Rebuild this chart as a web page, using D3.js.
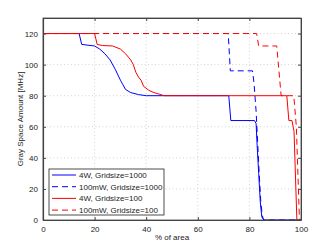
<!DOCTYPE html>
<html lang="en">
<head>
<meta charset="UTF-8">
<title>Gray space amount</title>
<script src="https://d3js.org/d3.v7.min.js"></script>
<style>
  body { margin: 0; background: #fff; }
  text { font-family: "Liberation Sans", Arial, sans-serif; }
</style>
</head>
<body>
<svg id="chart"></svg>
<script>
const xTicks = [0, 20, 40, 60, 80, 100];
const yTicks = [0, 20, 40, 60, 80, 100, 120];

const blue4W = [[0,120],[14,120],[15,113],[20,112],[22,110],[24,107],[26,103],[28,97],[30,90],[31,87],[32,84],[34,82],[37,80.7],[40,80],[72,80],[72.8,64],[82,64],[82.6,62],[83,48],[83.6,30],[84.2,12],[84.8,2],[85.6,0],[100,0]];
const blue100mW = [[0,120],[71.8,120],[72.6,96],[81.2,96],[81.8,88],[82.6,70],[83.2,50],[83.8,30],[84.4,12],[85,3],[85.5,0],[100,0]];
const red4W = [[0,120],[20,120],[21,113],[23,112.3],[27,112],[30,110],[32,107],[34,103],[35,100],[36,95],[37,92],[38,90],[39,86],[41,83.5],[43,82],[45,81],[47,80],[94.5,80],[95.3,64],[96.5,64],[97.3,57],[98.4,0],[100,0]];
const red100mW = [[0,120],[82.8,120],[83.6,112],[90.6,112],[92.3,80],[97.2,80],[98.2,60],[99.4,0]];

const series = [
  {name: "4W, Gridsize=1000", data: blue4W, color: "#0000ff", dash: null},
  {name: "100mW, Gridsize=1000", data: blue100mW, color: "#0000ff", dash: "6,4"},
  {name: "4W, Gridsize=100", data: red4W, color: "#ff0000", dash: null},
  {name: "100mW, Gridsize=100", data: red100mW, color: "#ff0000", dash: "6,4"}
];

const width = 331, height = 249;
const margin = {left: 43, right: 30, top: 18, bottom: 29};
const svg = d3.select("#chart").attr("width", width).attr("height", height);

const x = d3.scaleLinear().domain([0, 100]).range([margin.left, width - margin.right]);
const y = d3.scaleLinear().domain([0, 130]).range([height - margin.bottom, margin.top]);

// grid
const grid = svg.append("g").attr("stroke", "#c8c8c8").attr("stroke-width", 0.8).attr("stroke-dasharray", "1,2.5");
grid.selectAll(".gx").data(xTicks.slice(1, -1)).join("line")
  .attr("x1", d => x(d)).attr("x2", d => x(d)).attr("y1", y(0)).attr("y2", y(130));
grid.selectAll(".gy").data(yTicks.slice(1)).join("line")
  .attr("y1", d => y(d)).attr("y2", d => y(d)).attr("x1", x(0)).attr("x2", x(100));

// lines
const line = d3.line().x(d => x(d[0])).y(d => y(d[1]));
svg.append("g").selectAll("path").data(series).join("path")
  .attr("d", d => line(d.data))
  .attr("fill", "none")
  .attr("stroke", d => d.color)
  .attr("stroke-width", 1)
  .attr("stroke-dasharray", d => d.dash);

// frame and axes
svg.append("rect").attr("x", x(0)).attr("y", y(130)).attr("width", x(100) - x(0)).attr("height", y(0) - y(130))
  .attr("fill", "none").attr("stroke", "#444").attr("stroke-width", 0.8);

const xAxis = svg.append("g").attr("transform", `translate(0,${y(0)})`)
  .call(d3.axisBottom(x).tickValues(xTicks).tickSizeInner(-3).tickSizeOuter(0).tickPadding(6));
const yAxis = svg.append("g").attr("transform", `translate(${x(0)},0)`)
  .call(d3.axisLeft(y).tickValues(yTicks).tickSizeInner(-3).tickSizeOuter(0).tickPadding(5));
[xAxis, yAxis].forEach(a => {
  a.select(".domain").attr("stroke", "#444").attr("stroke-width", 1.2);
  a.selectAll(".tick line").attr("stroke", "#444");
  a.selectAll(".tick text").attr("font-size", 8).attr("fill", "#222")
    .style("font-family", "'Liberation Sans', Arial, sans-serif");
});
svg.append("g").attr("transform", `translate(${x(100)},0)`)
  .call(d3.axisRight(y).tickValues(yTicks).tickSizeInner(-3).tickSizeOuter(0).tickFormat(""))
  .call(g => g.select(".domain").attr("stroke", "#444"))
  .call(g => g.selectAll(".tick line").attr("stroke", "#444"));
svg.append("g").attr("transform", `translate(0,${y(130)})`)
  .call(d3.axisTop(x).tickValues(xTicks).tickSizeInner(-3).tickSizeOuter(0).tickFormat(""))
  .call(g => g.select(".domain").attr("stroke", "#444"))
  .call(g => g.selectAll(".tick line").attr("stroke", "#444"));

// axis labels
svg.append("text").attr("x", (x(0) + x(100)) / 2).attr("y", 240)
  .attr("text-anchor", "middle").attr("font-size", 8).attr("fill", "#222").text("% of area");
svg.append("text").attr("transform", `translate(23,${(y(0) + y(130)) / 2}) rotate(-90)`)
  .attr("text-anchor", "middle").attr("font-size", 8).attr("fill", "#222").text("Gray Space Amount [MHz]");

// legend
const lg = svg.append("g").attr("transform", "translate(49,169)");
lg.append("rect").attr("width", 115).attr("height", 46).attr("fill", "#fff").attr("stroke", "#222").attr("stroke-width", 0.8);
const items = lg.selectAll(".item").data(series).join("g")
  .attr("transform", (d, i) => `translate(0,${6 + i * 11.7})`);
items.append("line").attr("x1", 3).attr("x2", 27)
  .attr("stroke", d => d.color).attr("stroke-width", 1).attr("stroke-dasharray", d => d.dash);
items.append("text").attr("x", 30).attr("dy", "0.35em").attr("font-size", 8).attr("fill", "#222").text(d => d.name);
</script>
</body>
</html>
